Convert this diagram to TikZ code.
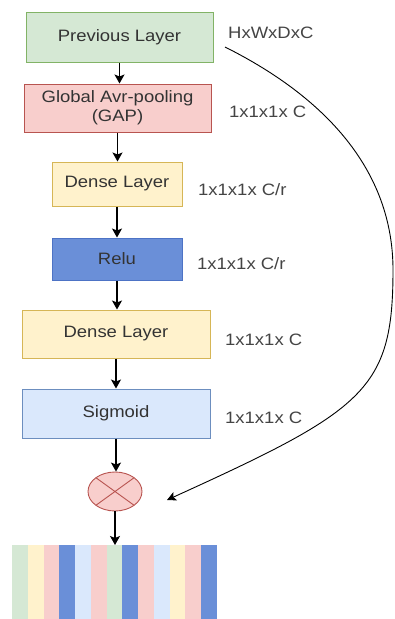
\documentclass[tikz,border=0pt]{standalone}
\usepackage{fontspec}
\setmainfont{Liberation Sans}[FakeStretch=1.12]
\usetikzlibrary{shapes.geometric,arrows.meta}
\definecolor{gfill}{HTML}{D5E8D4}\definecolor{gdraw}{HTML}{82B366}
\definecolor{rfill}{HTML}{F8CECC}\definecolor{rdraw}{HTML}{B85450}
\definecolor{yfill}{HTML}{FFF2CC}\definecolor{ydraw}{HTML}{D6B656}
\definecolor{bfill}{HTML}{6A8FD8}\definecolor{bdraw}{HTML}{4D73C5}
\definecolor{lbfill}{HTML}{DAE8FC}\definecolor{lbdraw}{HTML}{6C8EBF}
\definecolor{txt}{HTML}{333333}\definecolor{lbl}{HTML}{444444}
\begin{document}
\begin{tikzpicture}[x=1pt,y=-1pt,
  box/.style={draw,line width=1pt,inner sep=0pt,align=center,text=txt,
    font=\fontsize{16.5}{19}\selectfont},
  dimlbl/.style={anchor=west,inner sep=0pt,text=lbl,font=\fontsize{16.5}{20}\selectfont},
  arr/.style={line width=1.2pt,-{Stealth[length=9pt,width=10pt,inset=2pt]}},
  curv/.style={line width=0.9pt,-{Stealth[length=9pt,width=9pt,inset=2pt]}}]
\useasboundingbox (0,0) rectangle (395,619);
\node[box,fill=gfill,draw=gdraw,minimum width=187,minimum height=50] (prev) at (119.5,37) {Previous Layer};
\node[box,fill=rfill,draw=rdraw,minimum width=187,minimum height=48] (gap) at (117.5,108) {Global Avr-pooling\\(GAP)};
\node[box,fill=yfill,draw=ydraw,minimum width=130,minimum height=44] (d1) at (117,184) {Dense Layer};
\node[box,fill=bfill,draw=bdraw,minimum width=130,minimum height=42] (relu) at (117,259) {Relu};
\node[box,fill=yfill,draw=ydraw,minimum width=188,minimum height=48] (d2) at (116,334) {Dense Layer};
\node[box,fill=lbfill,draw=lbdraw,minimum width=188,minimum height=49] (sig) at (116,413.5) {Sigmoid};
\node[ellipse,draw=rdraw,fill=rfill,line width=0.9pt,minimum width=54,minimum height=39,inner sep=0pt,
  path picture={\draw[rdraw,line width=0.9pt] (path picture bounding box.north west) -- (path picture bounding box.south east)
    (path picture bounding box.north east) -- (path picture bounding box.south west);}] (sum) at (115,491.5) {};
% labels
\node[dimlbl] (l0) at (228,33) {HxWxDxC};
\node[dimlbl] (l1) at (229,112) {1x1x1x C};
\node[dimlbl] (l2) at (198,190) {1x1x1x C/r};
\node[dimlbl] (l3) at (197,264) {1x1x1x C/r};
\node[dimlbl] (l4) at (225,340) {1x1x1x C};
\node[dimlbl] (l5) at (225,418) {1x1x1x C};
% strip
\node[inner sep=0pt,minimum width=204.4,minimum height=74,anchor=north] (strip) at (114.5,545) {};
\foreach \c [count=\i from 0] in {gfill,yfill,rfill,bfill,lbfill,rfill,gfill,bfill,rfill,lbfill,yfill,rfill,bfill}{
  \fill[\c] ({12.3+15.72*\i},545) rectangle ({12.3+15.72*(\i+1)},619);
}
% arrows
\draw[arr] (prev.south) -- (prev.south |- gap.north);
\draw[arr] (gap.south) -- (gap.south |- d1.north);
\draw[arr] (d1.south) -- (d1.south |- relu.north);
\draw[arr] (relu.south) -- (relu.south |- d2.north);
\draw[arr] (d2.south) -- (d2.south |- sig.north);
\draw[arr] (sig.south) -- (sig.south |- sum.north);
\draw[arr] (sum.south) -- (sum.south |- strip.north);
% skip connection
\coordinate (cs) at (225,47);
\coordinate (cm) at (393,270);
\coordinate (ce) at (167,500);
\draw[curv] (cs) .. controls (325,97) and (393,170) .. (cm) .. controls (393,390) and (365,410) .. (ce);
\end{tikzpicture}
\end{document}
